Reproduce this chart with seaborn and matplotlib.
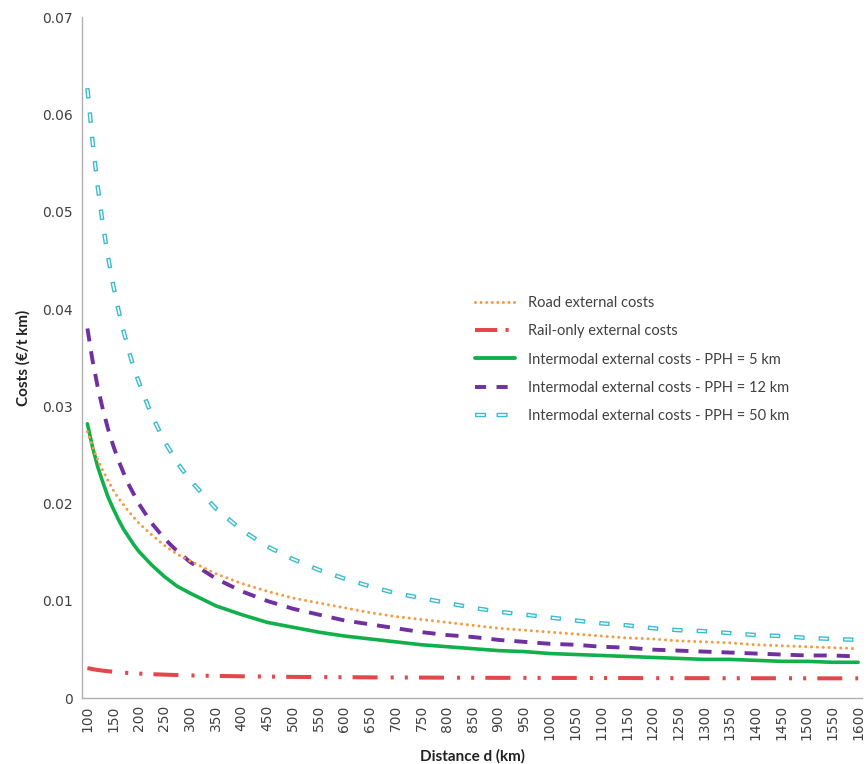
import matplotlib
matplotlib.use("Agg")
import matplotlib.pyplot as plt
from matplotlib.lines import Line2D
from matplotlib.legend_handler import HandlerTuple
import seaborn as sns

# ---------------- data ----------------
distance_km = [100, 110, 120, 130, 140, 150, 160, 170, 180, 190, 200, 225, 250, 275, 300,
               350, 400, 450, 500, 550, 600, 650, 700, 750, 800, 850, 900, 950, 1000,
               1050, 1100, 1150, 1200, 1250, 1300, 1350, 1400, 1450, 1500, 1550, 1600]

road_costs = [0.0274, 0.0259, 0.0245, 0.0234, 0.0224, 0.0214, 0.0206, 0.0199, 0.0192, 0.0186,
              0.0180, 0.0168, 0.0157, 0.0148, 0.0141, 0.0128, 0.0118, 0.0110, 0.0103, 0.0098,
              0.0093, 0.0088, 0.0084, 0.0081, 0.0078, 0.0075, 0.0072, 0.0070, 0.0068, 0.0066,
              0.0064, 0.0062, 0.0061, 0.0059, 0.0058, 0.0057, 0.0055, 0.0054, 0.0053, 0.0052,
              0.0051]

rail_costs = [0.00310, 0.00300, 0.00291, 0.00284, 0.00278, 0.00273, 0.00268, 0.00264, 0.00260,
              0.00257, 0.00254, 0.00248, 0.00243, 0.00239, 0.00235, 0.00230, 0.00226, 0.00223,
              0.00220, 0.00218, 0.00217, 0.00215, 0.00214, 0.00213, 0.00212, 0.00211, 0.00210,
              0.00210, 0.00209, 0.00209, 0.00208, 0.00208, 0.00207, 0.00207, 0.00207, 0.00206,
              0.00206, 0.00206, 0.00205, 0.00205, 0.00205]

pph5_costs = [0.0282, 0.0258, 0.0238, 0.0222, 0.0207, 0.0195, 0.0184, 0.0174, 0.0166, 0.0158,
              0.0151, 0.0137, 0.0125, 0.0115, 0.0108, 0.0095, 0.0086, 0.0078, 0.0073, 0.0068,
              0.0064, 0.0061, 0.0058, 0.0055, 0.0053, 0.0051, 0.0049, 0.0048, 0.0046, 0.0045,
              0.0044, 0.0043, 0.0042, 0.0041, 0.0040, 0.0040, 0.0039, 0.0038, 0.0038, 0.0037,
              0.0037]

pph12_costs = [0.0380, 0.0347, 0.0320, 0.0297, 0.0277, 0.0260, 0.0245, 0.0232, 0.0220, 0.0210,
               0.0200, 0.0180, 0.0164, 0.0151, 0.0140, 0.0123, 0.0110, 0.0100, 0.0092, 0.0086,
               0.0080, 0.0076, 0.0072, 0.0068, 0.0065, 0.0063, 0.0060, 0.0058, 0.0056, 0.0055,
               0.0053, 0.0052, 0.0050, 0.0049, 0.0048, 0.0047, 0.0046, 0.0045, 0.0044, 0.0044,
               0.0043]

pph50_costs = [0.0627, 0.0572, 0.0526, 0.0487, 0.0454, 0.0425, 0.0400, 0.0378, 0.0358, 0.0340,
               0.0325, 0.0291, 0.0264, 0.0242, 0.0224, 0.0195, 0.0173, 0.0156, 0.0143, 0.0132,
               0.0123, 0.0115, 0.0108, 0.0103, 0.0098, 0.0093, 0.0089, 0.0086, 0.0083, 0.0080,
               0.0077, 0.0075, 0.0072, 0.0070, 0.0069, 0.0067, 0.0065, 0.0064, 0.0062, 0.0061,
               0.0060]

series_labels = ["Road external costs",
                 "Rail-only external costs",
                 "Intermodal external costs - PPH = 5 km",
                 "Intermodal external costs - PPH = 12 km",
                 "Intermodal external costs - PPH = 50 km"]

x_ticks = list(range(100, 1601, 50))
y_ticks = [0, 0.01, 0.02, 0.03, 0.04, 0.05, 0.06, 0.07]
x_title = "Distance d (km)"
y_title = "Costs (€/t km)"

# ---------------- styling ----------------
sns.set_style("white")
plt.rcParams["font.family"] = ["DejaVu Sans"]
plt.rcParams["lines.scale_dashes"] = False

c_road = "#F39C45"
c_rail = "#E2474B"
c_pph5 = "#10B04A"
c_pph12 = "#7030A0"
c_pph50 = "#3CBCD0"
txt = "#404040"

fig = plt.figure(figsize=(8.66, 7.64), dpi=100)
ax = fig.add_axes([0.095, 0.086, 0.9007, 0.8917])

ls_road = (0, (0.01, 4.2))
ls_rail = (0, (18, 9.4, 2.2, 8, 2.2, 8))
ls_pph12 = (0, (9.4, 7.2))
ls_pph50_out = (0, (7.5, 10.1))
ls_pph50_in = (16.6, (5.5, 12.1))

sns.lineplot(x=distance_km, y=rail_costs, ax=ax, color=c_rail, linewidth=2.9,
             linestyle=ls_rail, legend=False)
sns.lineplot(x=distance_km, y=pph5_costs, ax=ax, color=c_pph5, linewidth=2.6,
             legend=False)
sns.lineplot(x=distance_km, y=pph12_costs, ax=ax, color=c_pph12, linewidth=2.8,
             linestyle=ls_pph12, legend=False)
sns.lineplot(x=distance_km, y=road_costs, ax=ax, color=c_road, linewidth=2.2,
             linestyle=ls_road, dash_capstyle="round", legend=False)
sns.lineplot(x=distance_km, y=pph50_costs, ax=ax, color=c_pph50, linewidth=3.2,
             linestyle=ls_pph50_out, legend=False)
sns.lineplot(x=distance_km, y=pph50_costs, ax=ax, color="white", linewidth=1.2,
             linestyle=ls_pph50_in, legend=False)

ax.set_xlim(90, 1608)
ax.set_ylim(0, 0.07)
ax.set_xticks(x_ticks)
ax.set_xticklabels([str(v) for v in x_ticks], rotation=90, fontsize=10, color=txt)
ax.set_yticks(y_ticks)
ax.set_yticklabels([f"{v:g}" for v in y_ticks], fontsize=10, color=txt)
ax.tick_params(axis="both", length=0)
ax.tick_params(axis="y", pad=7)
ax.tick_params(axis="x", pad=5)

for side in ["top", "right"]:
    ax.spines[side].set_visible(False)
for side in ["left", "bottom"]:
    ax.spines[side].set_color("#B0B0B0")
    ax.spines[side].set_linewidth(1.0)

ax.set_xlabel(x_title, fontsize=11, fontweight="bold", family=["Lato", "DejaVu Sans"],
              color="#222222", labelpad=6)
ax.set_ylabel(y_title, fontsize=11, fontweight="bold", family=["Lato", "DejaVu Sans"],
              color="#222222", labelpad=8)

# legend
h_road = Line2D([], [], color=c_road, lw=2.2, linestyle=(0, (0.01, 4.0)), dash_capstyle="round")
h_rail = Line2D([], [], color=c_rail, lw=2.9, linestyle=(0, (16, 6, 2.2, 20)))
h_pph5 = Line2D([], [], color=c_pph5, lw=2.8)
h_pph12 = Line2D([], [], color=c_pph12, lw=2.8, linestyle=(0, (8, 7.5)))
h_50o = Line2D([], [], color=c_pph50, lw=3.2, linestyle=(0, (8, 7.5)))
h_50i = Line2D([], [], color="white", lw=1.2, linestyle=(14.5, (6, 9.5)))
leg = ax.legend([h_road, h_rail, h_pph5, h_pph12, (h_50o, h_50i)], series_labels,
                handler_map={tuple: HandlerTuple(ndivide=1, pad=0)},
                loc="upper left", bbox_to_anchor=(475 / 866, 1 - 296 / 764),
                bbox_transform=fig.transFigure, frameon=False, borderpad=0,
                borderaxespad=0, handlelength=2.75, handletextpad=0.9,
                labelspacing=0.98, prop={"family": ["Lato", "DejaVu Sans"], "size": 10.5})
for t in leg.get_texts():
    t.set_color(txt)

fig.savefig("out.png", dpi=100)
